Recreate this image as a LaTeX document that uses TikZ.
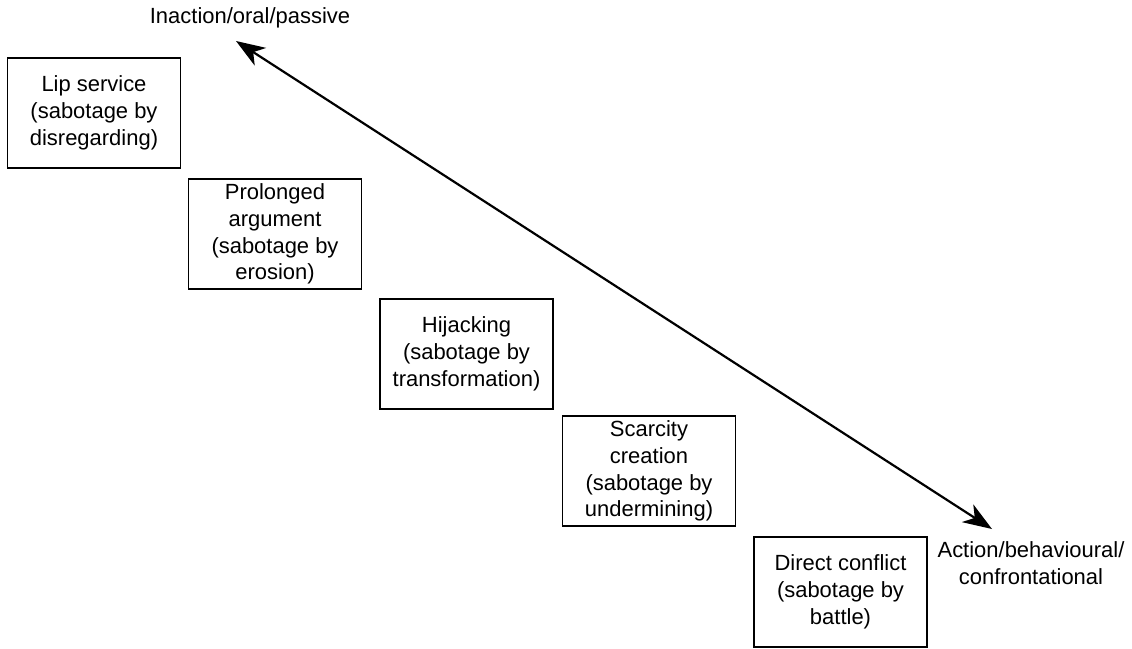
\documentclass[tikz,border=0pt]{standalone}
\usepackage{fontspec}
\setmainfont{Liberation Sans}
\usepackage{tikz}
\usetikzlibrary{arrows.meta}

\begin{document}
\begin{tikzpicture}[
      font=\fontsize{12.5}{15.2}\selectfont,
      tactic/.style={rectangle, draw=black, line width=0.9pt, align=center,
                     minimum width=3.46cm, minimum height=2.2cm, inner sep=2pt},
      pole/.style={align=center, inner sep=1pt},
      a/.style={{Stealth[length=5.8mm, width=4.2mm, inset=1.7mm]}-{Stealth[length=5.8mm, width=4.2mm, inset=1.7mm]},
                line width=1.25pt},
    ]
    \useasboundingbox (0,0) rectangle (22.64,-12.96);

    \node[tactic] (lip)      at (1.88, -2.26)  {Lip service\\(sabotage by\\disregarding)};
    \node[tactic] (argue)    at (5.50, -4.68)  {Prolonged\\argument\\(sabotage by\\erosion)};
    \node[tactic] (hijack)   at (9.33, -7.08)  {Hijacking\\(sabotage by\\transformation)};
    \node[tactic] (scarcity) at (12.98, -9.42) {Scarcity\\creation\\(sabotage by\\undermining)};
    \node[tactic] (conflict) at (16.81, -11.84) {Direct conflict\\(sabotage by\\battle)};

    \node[pole] (passive) at (5.00, -0.36)  {Inaction/oral/passive};
    \node[pole] (active)  at (20.62, -11.26) {Action/behavioural/\\confrontational};

    \coordinate (passend) at (4.72, -0.82);
    \coordinate (actend)  at (19.84, -10.58);
    \draw[a] (passend) -- (actend);
  \end{tikzpicture}
\end{document}
